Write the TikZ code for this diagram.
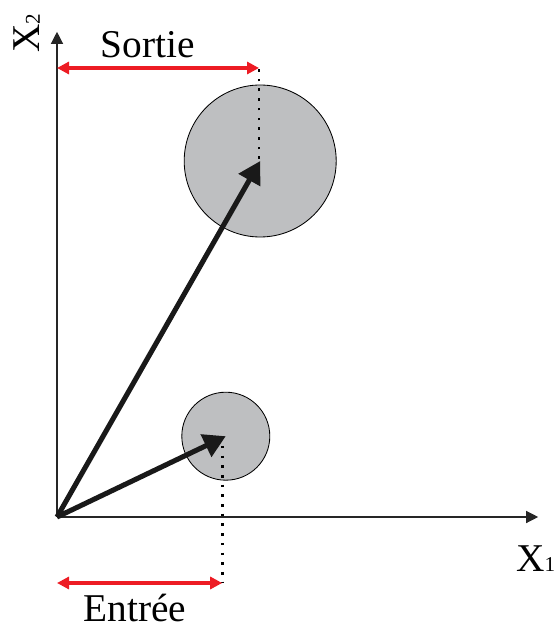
\documentclass[tikz,border=0pt]{standalone}
\usepackage{fontspec}
\setmainfont{Liberation Serif}
\usetikzlibrary{arrows.meta, positioning}

\definecolor{diskgray}{RGB}{190,191,193}
\definecolor{dimred}{RGB}{237,28,36}

\begin{document}
\begin{tikzpicture}[
    font=\fontsize{28}{32}\selectfont,
    axis/.style={draw=black!85, line width=0.9pt, -{Triangle[length=0.3cm, width=0.3cm]}},
    disk/.style={circle, fill=diskgray, draw=black, line width=0.6pt, inner sep=0pt},
    vec/.style={line width=3.6pt, draw=black!90, -{Triangle[length=0.55cm, width=0.6cm]}},
    dimline/.style={draw=dimred, line width=2.2pt, {Triangle[length=0.3cm, width=0.3cm]}-{Triangle[length=0.3cm, width=0.3cm]}},
    dots/.style={line width=1.9pt, dash pattern=on 1.9pt off 5pt}
]
\newcommand\subsc[1]{{\fontsize{15}{15}\selectfont #1}}
\useasboundingbox (-1.425,-2.775) rectangle (12.575,12.925);

% Axes
\coordinate (O) at (0,0);
\coordinate (xend) at (12.03,0);
\coordinate (yend) at (0,12.13);
\draw[axis] (O) -- (xend);
\draw[axis] (O) -- (yend);
\node (xlab) at (11.97,-1.03) {X\subsc{1}};
\node[rotate=90] (ylab) at (-0.75,12.1) {X\subsc{2}};

% Disks
\node[disk, minimum size=3.8cm] (big) at (5.08,8.9) {};
\node[disk, minimum size=2.2cm] (small) at (4.22,2.02) {};

% Vectors
\draw[vec] (O) -- (big.center);
\draw[vec] (O) -- (small.center);

% Sortie
\coordinate (sBot) at (5.05,8.95);
\coordinate (sTop) at (5.05,11.225);
\coordinate (sLeft) at (0,11.225);
\draw[dots] (sBot) -- (sTop);
\draw[dimline] (sLeft) -- (sTop);
\node (sortie) at (2.275,11.8) {Sortie};

% Entree
\coordinate (eTop) at (4.13,1.78);
\coordinate (eBot) at (4.13,-1.65);
\coordinate (eLeft) at (0,-1.65);
\draw[dots] (eTop) -- (eBot);
\draw[dimline] (eLeft) -- (eBot);
\node (entree) at (1.95,-2.27) {Entrée};

\end{tikzpicture}
\end{document}
